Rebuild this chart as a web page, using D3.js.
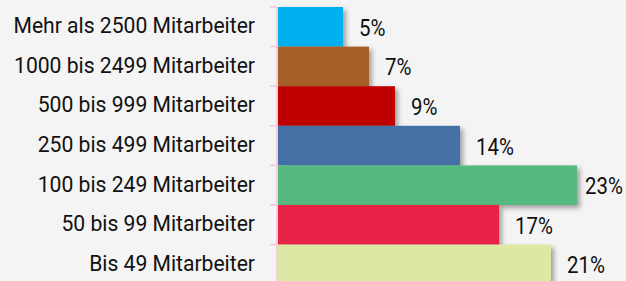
<!DOCTYPE html>
<html>
<head>
<meta charset="utf-8">
<script src="https://cdn.jsdelivr.net/npm/d3@7"></script>
<style>
  html, body { margin: 0; padding: 0; background: #f4f4f4; overflow: hidden; }
  svg { display: block; }
  .cat { font-family: Roboto, sans-serif; font-size: 22px; fill: #111; }
  .val { font-family: Roboto, sans-serif; font-size: 24px; fill: #111; }
</style>
</head>
<body>
<div id="chart"></div>
<script>
// Unternehmensgröße — Anteil in Prozent
const categories = [
  "Mehr als 2500 Mitarbeiter",
  "1000 bis 2499 Mitarbeiter",
  "500 bis 999 Mitarbeiter",
  "250 bis 499 Mitarbeiter",
  "100 bis 249 Mitarbeiter",
  "50 bis 99 Mitarbeiter",
  "Bis 49 Mitarbeiter"
];
const values = [5, 7, 9, 14, 23, 17, 21];
const colors = ["#00b0f0", "#a65f26", "#c00000", "#4470a5", "#56b97f", "#e82246", "#dce8a4"];

const W = 626, H = 281;
const margin = { top: 7, right: 0, bottom: 0, left: 278 };
// the source font is a condensed face, so squeeze Roboto horizontally
const CAT_SX = 0.96, VAL_SX = 0.85;

const svg = d3.select("#chart").append("svg")
  .attr("width", W).attr("height", H);

svg.append("rect").attr("width", W).attr("height", H).attr("fill", "#f4f4f4");

const defs = svg.append("defs");
const shadow = defs.append("filter").attr("id", "shadow")
  .attr("x", "-5%").attr("y", "-10%").attr("width", "120%").attr("height", "140%");
shadow.append("feDropShadow")
  .attr("dx", 3).attr("dy", 3).attr("stdDeviation", 2.5)
  .attr("flood-color", "#000").attr("flood-opacity", 0.35);

// band of ~39.6px per category, chart runs past the bottom edge
const x = d3.scaleLinear().domain([0, 23]).range([margin.left, 577]);
const y = d3.scaleBand().domain(categories).range([margin.top, margin.top + 39.6 * 7]).padding(0);

const g = svg.append("g");

g.selectAll("rect.bar").data(values).enter().append("rect")
  .attr("class", "bar")
  .attr("x", x(0))
  .attr("y", (d, i) => y(categories[i]))
  .attr("width", d => x(d) - x(0))
  .attr("height", y.bandwidth())
  .attr("fill", (d, i) => colors[i])
  .attr("filter", "url(#shadow)");

// axis line + ticks at band edges
const axisG = svg.append("g");
axisG.append("line")
  .attr("x1", margin.left - 1).attr("x2", margin.left - 1)
  .attr("y1", margin.top).attr("y2", H)
  .attr("stroke", "#f7c3d9").attr("stroke-width", 1.5);
axisG.selectAll("line.tick").data(categories).enter().append("line")
  .attr("class", "tick")
  .attr("x1", margin.left - 8).attr("x2", margin.left - 1)
  .attr("y1", d => y(d)).attr("y2", d => y(d))
  .attr("stroke", "#f7c3d9").attr("stroke-width", 1.5);

// category labels
svg.selectAll("text.cat").data(categories).enter().append("text")
  .attr("class", "cat")
  .attr("transform", d => `translate(255, ${y(d) + y.bandwidth() / 2 - 1.3}) scale(${CAT_SX}, 1)`)
  .attr("dy", "0.35em")
  .attr("text-anchor", "end")
  .text(d => d);

// value labels
svg.selectAll("text.val").data(values).enter().append("text")
  .attr("class", "val")
  .attr("dy", "0.35em")
  .text(d => d + "%")
  .attr("transform", function (d, i) {
    const w = this.getComputedTextLength() * VAL_SX;
    const tx = Math.min(x(d) + 16, W - w - 3);
    const ty = y(categories[i]) + y.bandwidth() / 2 + 0.5;
    return `translate(${tx}, ${ty}) scale(${VAL_SX}, 1)`;
  });
</script>
</body>
</html>
